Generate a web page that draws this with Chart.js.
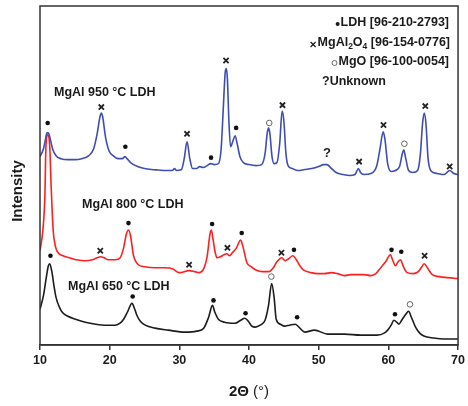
<!DOCTYPE html>
<html>
<head>
<meta charset="utf-8">
<script src="https://cdn.jsdelivr.net/npm/chart.js@4/dist/chart.umd.min.js"></script>
<style>
  body { margin: 0; background: #fff; }
  #xrd { display: block; }
</style>
</head>
<body>
<canvas id="xrd" width="468" height="406"></canvas>
<script>
// 2θ (deg) / intensity (arb. units, curves offset)
const mgal950 = [
  [10,190],[10.5,198],[10.8,208],[11.0,214],[11.2,214],[11.4,210],[11.8,198],[12.3,191],[13,188],[14,187],[15,187],
  [16,188],[17,191],[17.7,198],[18.2,213],[18.6,230],[18.8,234],[19.0,230],[19.4,210],[19.9,196],[20.5,191],
  [21.2,188],[21.8,188],[22.2,190],[22.5,188],[23,184],[24,180],[25,178],[26,177],[27,176.5],[28,176],
  [29,176],[29.3,178],[29.6,176],[30.3,177],[30.7,188],[31.1,205],[31.5,188],[31.9,178],[32.5,178],[32.9,180],
  [33.4,179],[34,181],[34.5,183],[35,182],[35.6,183],[36,198],[36.3,238],[36.6,276],[36.75,279],[36.9,268],
  [37.1,228],[37.35,200],[37.7,206],[38,211],[38.3,203],[38.7,190],[39.2,184],[40,182],[41,181],[41.8,182],
  [42.3,193],[42.6,213],[42.8,219],[43,213],[43.3,190],[43.6,183],[44,184],[44.4,203],[44.75,236],[45,226],
  [45.3,193],[45.6,181],[46.2,178],[47,176],[48,177],[49,178],[50,180],[50.7,182],[51.2,182],[51.7,179],
  [52.5,174],[53.5,172],[54.5,171],[55.2,172],[55.7,178],[56,174],[56.5,172],[57.5,173],[58.3,180],[58.8,198],
  [59.25,215],[59.5,208],[59.9,183],[60.4,175],[61,176],[61.6,180],[62,193],[62.2,197],[62.5,188],[62.9,176],
  [63.5,174],[64.2,176],[64.6,193],[64.9,223],[65.15,234],[65.4,223],[65.7,188],[66.2,175],[67,173],[68,172],
  [68.8,176],[69.4,173],[70,172]
];
const mgal800 = [
  [10,95],[10.4,115],[10.7,150],[10.85,200],[11.1,212],[11.4,200],[11.6,160],[11.9,115],[12.2,100],[12.5,94],
  [13.3,90],[14.2,88],[15.2,86],[16.6,85],[17.5,86],[18.2,88],[18.7,89],[19.2,88],[19.8,86],[20.8,86],
  [21.5,88],[22.0,98],[22.4,112],[22.7,116],[23.0,110],[23.4,91],[24.1,81],[25,79],[26.5,78],[28,78],
  [29,77],[30,73],[31.4,75],[32.2,74],[32.8,73],[33.5,77],[34.0,90],[34.4,112],[34.6,116],[34.85,106],
  [35.1,95],[35.4,88],[35.9,89],[36.4,91],[36.8,92],[37.2,90],[37.6,93],[38.2,98],[38.8,106],[39.1,100],
  [39.7,83],[40.3,79],[40.9,76],[42,74],[42.8,74],[43.5,78],[43.9,83],[44.4,87],[44.7,88],[45.2,85],
  [45.7,87],[46.3,90],[46.8,86],[47.3,80],[47.75,76],[48.9,73],[49.9,72],[50.8,72],[51.8,73],[52.7,72],
  [53.7,70],[54.6,71],[55.6,71],[56.5,71],[57.5,70],[58.2,72],[58.9,78],[59.6,84],[60.3,91],[60.6,86],
  [61.0,80],[61.4,84],[61.75,86],[62.1,80],[62.7,73],[63.5,72],[64.3,74],[64.8,79],[65.15,82],[65.6,78],
  [66.3,71],[67.3,69],[68.5,68],[70,67]
];
const mgal650 = [
  [10,36],[10.5,50],[10.9,68],[11.2,80],[11.4,82],[11.7,74],[12.0,60],[12.3,48],[12.8,38],[13.2,33],
  [14,29],[15.1,26],[16.5,23],[18,21],[19.5,20],[20.8,20],[21.5,22],[22,26],[22.6,34],[23.2,42],
  [23.6,36],[23.9,30],[24.4,24],[25.1,20],[26.5,17],[28.4,15],[30.8,13],[32.5,14],[33.5,17],[34.2,28],
  [34.75,40],[35.1,33],[35.6,26],[36.5,23],[38,22],[38.8,25],[39.4,27],[39.9,24],[40.4,19],[40.9,18],
  [41.6,20],[42.3,25],[42.8,40],[43.25,62],[43.6,48],[43.9,26],[44.5,21],[45.1,19],[45.8,20],[46.65,21],
  [47.3,17],[48,13],[49.4,15],[51.3,11],[53.7,11],[56,10],[58.4,10],[59.4,12],[59.9,15],[60.4,20],
  [60.8,25],[61.2,23],[61.5,21],[62.0,26],[62.5,31],[62.9,34],[63.3,28],[63.9,18],[64.5,12],[65.1,9],
  [66.5,7],[68,6],[70,6]
];

// phase markers
const ldhMarks = [
  [11.1,224],[22.25,200],[34.55,189],[38.15,219],
  [22.7,123],[34.7,122],[38.95,113],[46.45,96],[60.45,96],[61.85,94],
  [11.5,90],[23.3,49],[34.9,45],[39.5,32],[46.9,28],[60.95,31]
];
const spinelMarks = [
  [18.8,240],[31.1,213],[36.7,287],[44.8,242],[55.8,185],[59.3,222],[65.3,241],[68.8,180],
  [18.65,95],[31.4,81],[36.9,98],[44.65,93],[65.2,90]
];
const mgoMarks = [[42.9,224],[62.3,203],[43.2,69],[63.1,41]];
const unknownMarks = [[51.2,193]];

const xTicks = [10, 20, 30, 40, 50, 60, 70];

const FONT = '"Liberation Sans", Arial, sans-serif';
const toPts = arr => arr.map(p => ({ x: p[0], y: p[1] }));

function lineSet(label, pts, color) {
  return {
    label: label, data: toPts(pts), borderColor: color, borderWidth: 1.6,
    pointRadius: 0, fill: false, cubicInterpolationMode: 'monotone'
  };
}

// draws pieces of text (with sub-scripts) right aligned at xr
function richText(ctx, parts, xr, y) {
  let w = 0;
  parts.forEach(p => { ctx.font = p.f; w += ctx.measureText(p.t).width; });
  let x = xr - w;
  parts.forEach(p => {
    ctx.font = p.f;
    ctx.fillText(p.t, x, y + (p.dy || 0));
    x += ctx.measureText(p.t).width;
  });
  return xr - w;
}

const textPlugin = {
  id: 'xrdText',
  afterDraw(chart) {
    const { ctx, chartArea: a, scales: { x, y } } = chart;
    ctx.save();
    ctx.strokeStyle = '#333';
    ctx.lineWidth = 1.5;
    ctx.strokeRect(a.left, a.top, a.right - a.left, a.bottom - a.top);

    ctx.fillStyle = '#1a1a1a';
    ctx.textBaseline = 'middle';
    ctx.textAlign = 'center';
    ctx.font = 'bold 13px ' + FONT;
    unknownMarks.forEach(p => ctx.fillText('?', x.getPixelForValue(p[0]), y.getPixelForValue(p[1])));

    ctx.textAlign = 'left';
    ctx.font = 'bold 12.5px ' + FONT;
    ctx.fillText('MgAl 950 °C LDH', 54, 93);
    ctx.fillText('MgAl 800 °C LDH', 82, 205);
    ctx.fillText('MgAl 650 °C LDH', 68, 287);

    // legend
    const b = 'bold 12.5px ' + FONT, s = 'bold 8.5px ' + FONT;
    let x0 = richText(ctx, [{ t: 'LDH [96-210-2793]', f: b }], 449, 23);
    ctx.beginPath(); ctx.arc(x0 - 3, 24, 2, 0, Math.PI * 2); ctx.fill();
    x0 = richText(ctx, [{ t: 'MgAl', f: b }, { t: '2', f: s, dy: 4 }, { t: 'O', f: b }, { t: '4', f: s, dy: 4 },
      { t: ' [96-154-0776]', f: b }], 450, 43);
    ctx.strokeStyle = '#1a1a1a'; ctx.lineWidth = 1.2;
    ctx.beginPath();
    ctx.moveTo(x0 - 7, 42); ctx.lineTo(x0 - 2, 47); ctx.moveTo(x0 - 2, 42); ctx.lineTo(x0 - 7, 47);
    ctx.stroke();
    x0 = richText(ctx, [{ t: 'MgO [96-100-0054]', f: b }], 449, 62);
    ctx.strokeStyle = '#666'; ctx.lineWidth = 1;
    ctx.beginPath(); ctx.arc(x0 - 4, 63, 2.5, 0, Math.PI * 2); ctx.stroke();
    ctx.font = b;
    ctx.fillText('?Unknown', 322, 82);

    // axis titles
    ctx.font = 'bold 15px ' + FONT;
    const w1 = ctx.measureText('2Θ ').width;
    ctx.font = '15px ' + FONT;
    const w2 = ctx.measureText('(°)').width;
    const cx = (a.left + a.right) / 2 - (w1 + w2) / 2;
    ctx.font = 'bold 15px ' + FONT;
    ctx.fillText('2Θ ', cx, 392);
    ctx.font = '15px ' + FONT;
    ctx.fillText('(°)', cx + w1, 392);

    ctx.translate(18, 191);
    ctx.rotate(-Math.PI / 2);
    ctx.textAlign = 'center';
    ctx.font = 'bold 15px ' + FONT;
    ctx.fillText('Intensity', 0, 0);
    ctx.restore();
  }
};

new Chart(document.getElementById('xrd').getContext('2d'), {
  type: 'line',
  data: {
    datasets: [
      lineSet('MgAl 950 °C LDH', mgal950, '#3d4db4'),
      lineSet('MgAl 800 °C LDH', mgal800, '#ff1f1f'),
      lineSet('MgAl 650 °C LDH', mgal650, '#1c1c1c'),
      { type: 'scatter', label: 'LDH', data: toPts(ldhMarks), pointStyle: 'circle', pointRadius: 2.3,
        backgroundColor: '#111', borderWidth: 0 },
      { type: 'scatter', label: 'MgAl2O4', data: toPts(spinelMarks), pointStyle: 'crossRot', pointRadius: 3.7,
        borderColor: '#222', borderWidth: 1.8 },
      { type: 'scatter', label: 'MgO', data: toPts(mgoMarks), pointStyle: 'circle', pointRadius: 2.8,
        backgroundColor: '#fff', borderColor: '#666', borderWidth: 1 }
    ]
  },
  options: {
    responsive: false,
    animation: false,
    layout: { padding: { left: 40, right: 7, top: 6, bottom: 35 } },
    plugins: { legend: { display: false }, tooltip: { enabled: false } },
    scales: {
      x: {
        type: 'linear', min: 10, max: 70,
        afterBuildTicks: axis => { axis.ticks = xTicks.map(v => ({ value: v })); },
        grid: { drawOnChartArea: false, drawTicks: true, tickLength: 5, color: '#333', lineWidth: 1.5 },
        border: { display: true, color: '#333', width: 1.5 },
        ticks: { color: '#1a1a1a', font: { family: FONT, size: 12.5, weight: 'bold' }, padding: 3, maxRotation: 0 }
      },
      y: { display: false, min: 0, max: 342 }
    }
  },
  plugins: [textPlugin]
});
</script>
</body>
</html>
